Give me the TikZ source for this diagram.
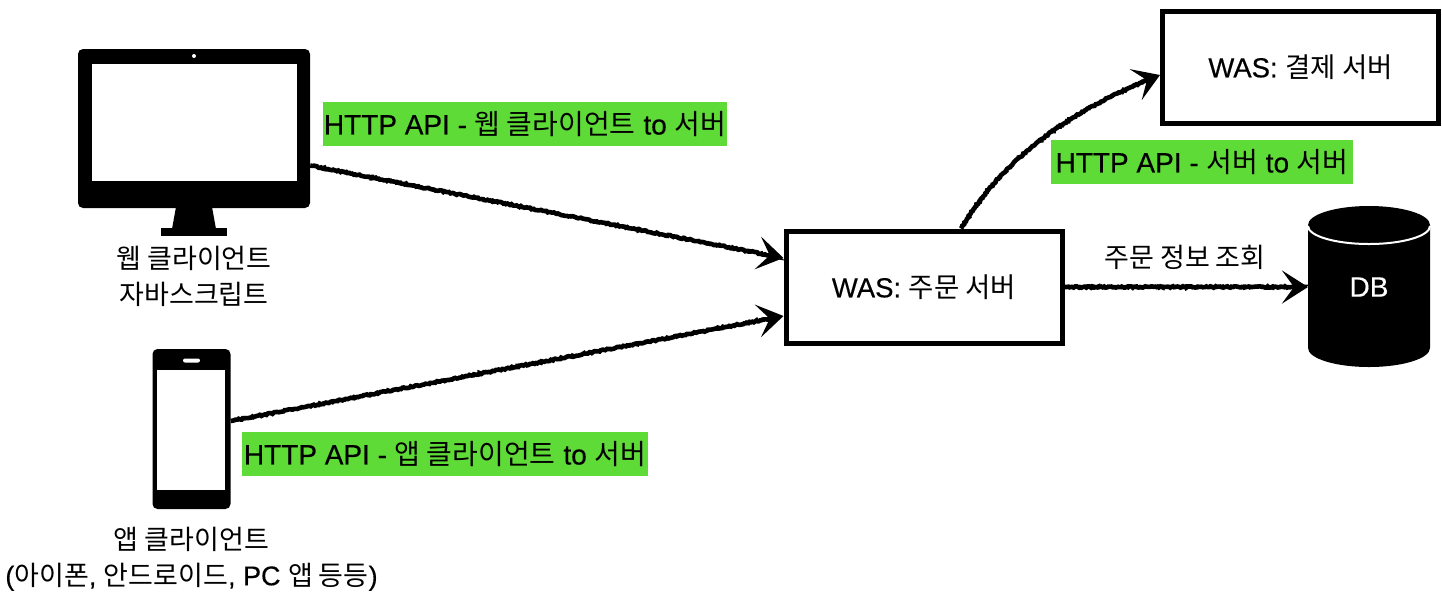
\documentclass[tikz,border=0pt]{standalone}
\usepackage{fontspec}
\usepackage{xcolor}
\setmainfont[FakeBold=0.4]{Liberation Sans}
\newfontfamily\krfont{Noto Sans CJK KR}
\usetikzlibrary{arrows.meta, positioning, decorations.pathmorphing}
\definecolor{labelgreen}{HTML}{5FDB37}
\newcommand{\ko}[1]{{\krfont #1}}

\begin{document}
\begin{tikzpicture}[x=1pt, y=-1pt]
		\tikzset{
			node distance=2pt and 2pt,
			server/.style={rectangle, draw=black, line width=5pt, fill=white, text=black, align=center,
			font=\fontsize{27.5}{30}\selectfont, minimum width=276pt, minimum height=112pt, inner sep=0pt},
			apilabel/.style={rectangle, fill=labelgreen, text=black, align=center, font=\fontsize{28}{30}\selectfont,
			minimum height=44pt, inner sep=0pt},
			caption/.style={align=center, text=black, font=\fontsize{27}{35.5}\selectfont, inner sep=0pt},
			device/.style={rectangle, fill=black, rounded corners=5pt, inner sep=0pt},
			glass/.style={rectangle, fill=white, inner sep=0pt},
			ink/.style={black, line width=4.6pt, -{Stealth[length=26pt, width=33pt, inset=12pt]},
			decorate, decoration={random steps, segment length=1.5pt, amplitude=0.7pt, pre length=2pt, post length=8pt}}
		}
		\useasboundingbox (0,0) rectangle (1442,598);

		% monitor
		\node[device, minimum width=232pt, minimum height=159pt] (monitor) at (194,128.5) {};
		\node[glass, minimum width=205pt, minimum height=117pt] (monitorglass) at (194.5,122.5) {};
		\node[circle, fill=white, minimum size=4pt, inner sep=0pt] (camera) at (194,56) {};
		\node[rectangle, fill=black, minimum width=66pt, minimum height=8pt, inner sep=0pt] (base) at (194,232) {};
		\fill[black] (176,207) -- (212,207) -- (216,229) -- (172,229) -- cycle;
		\node[caption, below=10pt of base] (webcap) {\ko{웹 클라이언트}\\\ko{자바스크립트}};

		% phone
		\node[device, minimum width=78pt, minimum height=160pt] (phone) at (191.5,429) {};
		\node[glass, minimum width=68pt, minimum height=120pt] (phoneglass) at (191,430) {};
		\node[rectangle, fill=white, rounded corners=2pt, minimum width=17pt, minimum height=4pt, inner sep=0pt] (speaker) at (191.5,360.5) {};
		\node[caption, below=18pt of phone] (appcap) {\ko{앱 클라이언트}\\(\ko{아이폰}, \ko{안드로이드}, PC \ko{앱 등등})};

		% servers
		\node[server] (order) at (924,287) {WAS: \ko{주문 서버}};
		\node[server] (pay) at (1300.5,67) {WAS: \ko{결제 서버}};

		% db
		\fill[black] (1308,225) arc[start angle=180, end angle=0, x radius=61pt, y radius=19pt]
			-- (1430,348) arc[start angle=0, end angle=-180, x radius=61pt, y radius=19pt] -- cycle;
		\draw[white, line width=2pt] (1308,226) arc[start angle=180, end angle=360, x radius=61pt, y radius=18pt];
		\node[rectangle, text=white, font=\fontsize{28}{30}\selectfont, minimum width=122pt, minimum height=161pt,
		inner sep=0pt, outer sep=0pt] (db) at (1369,287) {DB};

		% labels
		\node[apilabel, minimum width=404pt] (weblabel) at (525,124) {HTTP API - \ko{웹 클라이언트} to \ko{서버}};
		\node[apilabel, minimum width=406pt] (applabel) at (445,454) {HTTP API - \ko{앱 클라이언트} to \ko{서버}};
		\node[apilabel, minimum width=302pt] (paylabel) at (1202,162) {HTTP API - \ko{서버} to \ko{서버}};
		\node[text=black, font=\fontsize{27}{30}\selectfont, inner sep=0pt] (dblabel) at (1185,257) {\ko{주문 정보 조회}};

		\draw[ink] ([yshift=-37pt]monitor.east) -- ([yshift=29pt]order.west);
		\draw[ink] ([yshift=8pt]phone.east) -- ([yshift=-29pt]order.west);
		\draw[ink] ([xshift=37pt]order.north) .. controls (1005,155) and (1075,108) .. ([yshift=-8pt]pay.west);
		\draw[ink] (order.east) -- (db.west);
	\end{tikzpicture}
\end{document}
